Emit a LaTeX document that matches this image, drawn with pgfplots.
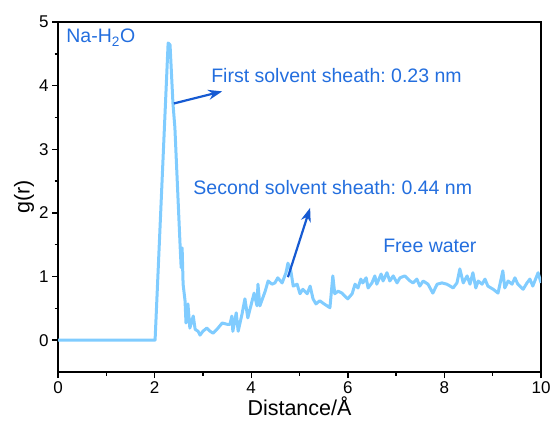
\documentclass[border=0pt]{standalone}
\usepackage{fontspec}
\setmainfont{Liberation Sans}
\usepackage{pgfplots}
\pgfplotsset{compat=1.18}
\usetikzlibrary{arrows.meta}
\definecolor{curve}{RGB}{128,204,255}
\definecolor{txtblue}{RGB}{35,110,222}
\definecolor{arrblue}{RGB}{22,90,210}
\frenchspacing
\begin{document}
\begin{tikzpicture}
\path[use as bounding box] (-58bp,-54bp) rectangle (493bp,372bp);
\begin{axis}[
  at={(0,0)}, anchor=south west,
  scale only axis, width=483bp, height=350bp,
  xmin=0, xmax=10, ymin=-0.5, ymax=5,
  xtick={0,2,4,6,8,10}, ytick={0,1,2,3,4,5},
  minor x tick num=1, minor y tick num=1,
  tick align=outside, xtick pos=bottom, ytick pos=left,
  major tick length=6bp, minor tick length=3.5bp,
  every tick/.style={black, line width=1.4bp},
  axis line style={line width=1.7bp},
  /pgf/number format/assume math mode=true,
  ticklabel style={font=\fontsize{17bp}{20bp}\selectfont},
  label style={font=\fontsize{21.5bp}{24bp}\selectfont},
  xlabel={Distance/Å}, ylabel={g(r)},
  xlabel style={yshift=4bp},
  ylabel style={yshift=-2bp},
]
\addplot[curve, line width=3bp, line join=round] coordinates {
(0,0) (2.01,0) (2.28,4.67) (2.32,4.64) (2.38,3.72) (2.42,3.34) (2.53,1.45)
(2.55,1.14) (2.57,1.45) (2.59,0.88) (2.63,0.62) (2.65,0.27) (2.69,0.57)
(2.73,0.19) (2.80,0.38) (2.84,0.17) (2.90,0.14) (2.94,0.08) (3.00,0.14)
(3.08,0.19) (3.15,0.14) (3.21,0.11) (3.29,0.17) (3.40,0.27) (3.50,0.25)
(3.56,0.25) (3.60,0.38) (3.62,0.14) (3.69,0.43) (3.73,0.14) (3.81,0.41)
(3.87,0.65) (3.93,0.35) (4.02,0.62) (4.06,0.74) (4.12,0.54) (4.14,0.88)
(4.18,0.54) (4.29,0.77) (4.35,0.93) (4.43,0.88) (4.49,0.90) (4.55,0.98)
(4.64,0.90) (4.72,1.06) (4.76,1.21) (4.82,1.09) (4.87,0.85) (4.95,0.88)
(5.01,0.73) (5.07,0.80) (5.16,0.73) (5.22,0.85) (5.28,0.65) (5.34,0.57)
(5.42,0.62) (5.49,0.58) (5.57,0.54) (5.63,0.51) (5.69,1.01) (5.73,0.73)
(5.80,0.77) (5.88,0.74) (5.94,0.69) (6.00,0.65) (6.09,0.73) (6.15,0.88)
(6.21,0.82) (6.27,0.96) (6.31,0.90) (6.38,0.98) (6.42,0.82) (6.50,0.90)
(6.56,1.01) (6.60,0.88) (6.69,1.04) (6.73,0.93) (6.81,1.06) (6.87,0.93)
(6.94,1.01) (7.02,0.90) (7.08,0.98) (7.18,1.01) (7.29,0.93) (7.35,0.90)
(7.43,0.96) (7.49,0.85) (7.56,0.93) (7.66,0.88) (7.76,0.74) (7.85,0.88)
(7.95,0.90) (8.05,0.88) (8.12,0.85) (8.18,0.82) (8.26,0.90) (8.32,1.12)
(8.39,0.90) (8.47,1.01) (8.53,0.88) (8.59,1.06) (8.65,0.82) (8.70,0.93)
(8.78,0.88) (8.84,0.96) (8.90,0.85) (9.01,0.80) (9.11,0.74) (9.21,1.09)
(9.25,0.82) (9.32,0.93) (9.40,0.88) (9.46,0.98) (9.52,0.88) (9.63,0.80)
(9.71,0.90) (9.77,0.96) (9.83,0.85) (9.94,1.06) (10.0,0.90)
};
\draw[arrblue, line width=2.2bp, -{Stealth[length=14bp,width=10bp]}] (axis cs:2.40,3.72) -- (axis cs:3.40,3.91);
\draw[arrblue, line width=2.2bp, -{Stealth[length=14bp,width=10bp]}] (axis cs:4.76,0.99) -- (axis cs:5.22,2.08);
\node[txtblue, anchor=base west, inner sep=0, font=\fontsize{19.5bp}{22bp}\selectfont] at (axis cs:3.17,4.05) {First solvent sheath: 0.23 nm};
\node[txtblue, anchor=base west, inner sep=0, font=\fontsize{19.5bp}{22bp}\selectfont] at (axis cs:2.80,2.29) {Second solvent sheath: 0.44 nm};
\node[txtblue, anchor=base west, inner sep=0, font=\fontsize{19.5bp}{22bp}\selectfont] at (axis cs:6.73,1.37) {Free water};
\node[txtblue, anchor=base west, inner sep=0, font=\fontsize{19.5bp}{22bp}\selectfont] at (axis cs:0.17,4.67) {Na-H\textsubscript{2}O};
\end{axis}
\end{tikzpicture}
\end{document}
